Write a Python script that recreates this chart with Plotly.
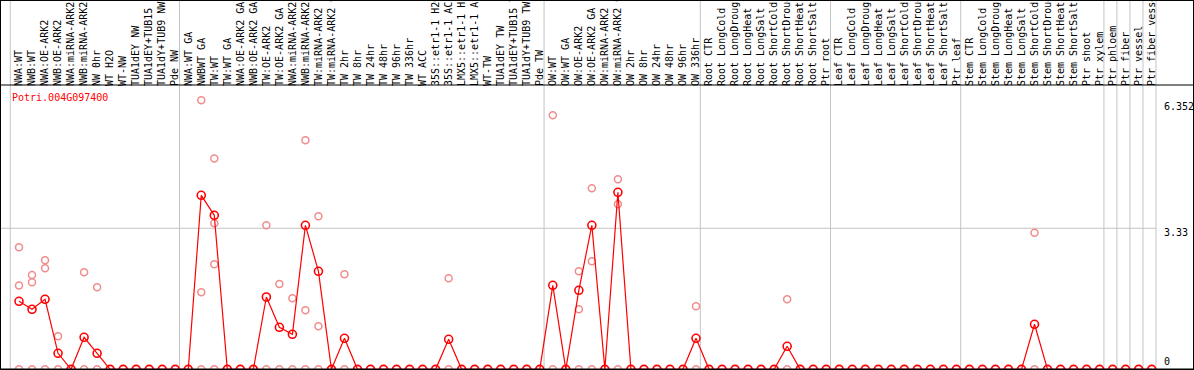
import plotly.graph_objects as go

gene = "Potri.004G097400"

labels = [
    "NWA:WT", "NWB:WT", "NWA:OE-ARK2", "NWB:OE-ARK2", "NWA:miRNA-ARK2", "NWB:miRNA-ARK2",
    "NW 0hr", "WT H2O", "WT-NW", "TUA1dEY NW", "TUA1dEY+TUB15 NW", "TUA1dY+TUB9 NW", "Pde NW",
    "NWA:WT GA", "NWBWT GA", "TW:WT", "TW:WT GA", "NWA:OE-ARK2 GA", "NWB:OE-ARK2 GA",
    "TW:OE-ARK2", "TW:OE-ARK2 GA", "NWA:miRNA-ARK2 GA", "NWB:miRNA-ARK2 GA", "TW:miRNA-ARK2",
    "TW:miRNA-ARK2 GA", "TW 2hr", "TW 8hr", "TW 24hr", "TW 48hr", "TW 96hr", "TW 336hr", "WT ACC",
    "35S::etr1-1 H2O", "35S::etr1-1 ACC", "LMX5::etr1-1 H2O", "LMX5::etr1-1 ACC", "WT-TW",
    "TUA1dEY TW", "TUA1dEY+TUB15 TW", "TUA1dY+TUB9 TW", "Pde TW",
    "OW:WT", "OW:WT GA", "OW:OE-ARK2", "OW:OE-ARK2 GA", "OW:miRNA-ARK2", "OW:miRNA-ARK2 GA",
    "OW 2hr", "OW 8hr", "OW 24hr", "OW 48hr", "OW 96hr", "OW 336hr",
    "Root CTR", "Root LongCold", "Root LongDrought", "Root LongHeat", "Root LongSalt",
    "Root ShortCold", "Root ShortDrought", "Root ShortHeat", "Root ShortSalt", "Ptr root",
    "Leaf CTR", "Leaf LongCold", "Leaf LongDrought", "Leaf LongHeat", "Leaf LongSalt",
    "Leaf ShortCold", "Leaf ShortDrought", "Leaf ShortHeat", "Leaf ShortSalt", "Ptr leaf",
    "Stem CTR", "Stem LongCold", "Stem LongDrought", "Stem LongHeat", "Stem LongSalt",
    "Stem ShortCold", "Stem ShortDrought", "Stem ShortHeat", "Stem ShortSalt",
    "Ptr shoot", "Ptr xylem", "Ptr phloem", "Ptr fiber", "Ptr vessel", "Ptr fiber vessel",
]

# mean expression per sample (non-listed = 0)
mean_nonzero = {
    0: 1.606, 1: 1.417, 2: 1.653, 3: 0.378, 5: 0.756, 6: 0.378,
    14: 4.108, 15: 3.636, 19: 1.707, 20: 0.992, 21: 0.826, 22: 3.40, 23: 2.314,
    25: 0.732, 33: 0.708, 41: 1.983, 43: 1.865, 44: 3.40, 46: 4.179,
    52: 0.732, 59: 0.543, 78: 1.063,
}
means = [mean_nonzero.get(i, 0.0) for i in range(len(labels))]

# replicate values (every sample also has a replicate at 0)
reps_nonzero = {
    0: [2.88, 1.98], 1: [2.227, 2.054], 2: [2.574, 2.385], 3: [0.779], 5: [2.29], 6: [1.936],
    14: [6.352, 1.818], 15: [4.98, 3.447, 2.479], 19: [3.40], 20: [2.014], 21: [1.676],
    22: [5.407, 1.393], 23: [3.613, 1.015], 25: [2.243], 33: [2.149], 41: [5.998],
    43: [2.314, 1.417], 44: [4.274, 2.55], 46: [4.486, 3.896], 52: [1.488], 59: [1.653],
    78: [3.226],
}

group_bounds = [-0.67, 12.33, 40.33, 52.33, 62.33, 72.33, 83.33, 84.33, 85.33, 86.33, 87.33]
ytick_vals = [6.352, 3.33, 0]
ytick_text = ["6.352", "3.33", "0"]

rep_x, rep_y = [], []
for i in range(len(labels)):
    for v in reps_nonzero.get(i, []) + [0.0]:
        rep_x.append(i)
        rep_y.append(v)

xs = list(range(len(labels)))
FONT = "DejaVu Sans Mono"

fig = go.Figure()
fig.add_trace(go.Scatter(
    x=rep_x, y=rep_y, mode="markers",
    marker=dict(symbol="circle-open", size=7, color="#f08c8c", line=dict(width=1.5, color="#f08c8c")),
    cliponaxis=False, hoverinfo="skip",
))
fig.add_trace(go.Scatter(
    x=xs, y=means, mode="lines+markers",
    line=dict(color="#ff0000", width=1.2),
    marker=dict(symbol="circle-open", size=8, color="#ff0000", line=dict(width=1.6, color="#ff0000")),
    cliponaxis=False,
))

shapes = []
for b in group_bounds:
    shapes.append(dict(type="line", xref="x", yref="paper", x0=b, x1=b, y0=0, y1=1.3,
                       line=dict(color="#c4c4c4", width=1), layer="below"))
shapes.append(dict(type="line", xref="x", yref="y", x0=-1.459, x1=87.33, y0=3.33, y1=3.33,
                   line=dict(color="#c4c4c4", width=1), layer="below"))
# borders
shapes.append(dict(type="line", xref="paper", yref="paper", x0=0, x1=1, y0=1.2965, y1=1.2965,
                   line=dict(color="black", width=1)))
shapes.append(dict(type="line", xref="paper", yref="paper", x0=0, x1=1, y0=1.0, y1=1.0,
                   line=dict(color="black", width=1)))
shapes.append(dict(type="line", xref="paper", yref="paper", x0=0.5 / 1194, x1=0.5 / 1194, y0=0, y1=1.3,
                   line=dict(color="black", width=1)))
shapes.append(dict(type="line", xref="paper", yref="paper", x0=1193.5 / 1194, x1=1193.5 / 1194, y0=0, y1=1.3,
                   line=dict(color="black", width=1)))
shapes.append(dict(type="line", xref="paper", yref="y", x0=0, x1=1, y0=0, y1=0,
                   line=dict(color="black", width=1.5)))

annotations = [dict(text=gene, xref="paper", yref="paper", x=10 / 1194, y=(370 - 97) / 285,
                    xanchor="left", yanchor="middle", showarrow=False,
                    font=dict(family=FONT, size=10, color="#ff0000"))]
yshifts = [-6, -4, 0]
yanchors = ["middle", "middle", "bottom"]
for v, t, s, a in zip(ytick_vals, ytick_text, yshifts, yanchors):
    annotations.append(dict(text=t, xref="paper", yref="y", x=1162 / 1194, y=v, xanchor="left",
                            yanchor=a, yshift=s, showarrow=False,
                            font=dict(family=FONT, size=10, color="black")))

fig.update_layout(
    width=1194, height=370,
    margin=dict(l=0, r=0, t=85, b=0, pad=0),
    paper_bgcolor="white", plot_bgcolor="white",
    showlegend=False,
    shapes=shapes, annotations=annotations,
    xaxis=dict(range=[-1.459, 90.25], side="top", tickmode="array", tickvals=xs, ticktext=labels,
               tickangle=-90, tickfont=dict(family=FONT, size=10, color="black"),
               ticklabelstandoff=-2,
               showgrid=False, zeroline=False, showline=False, ticks="", automargin=False),
    yaxis=dict(range=[-0.0165, 6.713], showticklabels=False, showgrid=False, zeroline=False,
               showline=False, automargin=False),
)

fig.write_html(
    "out.html",
    config={"displayModeBar": False},
    post_script="document.body.style.margin='0';document.body.style.overflow='hidden';",
)
